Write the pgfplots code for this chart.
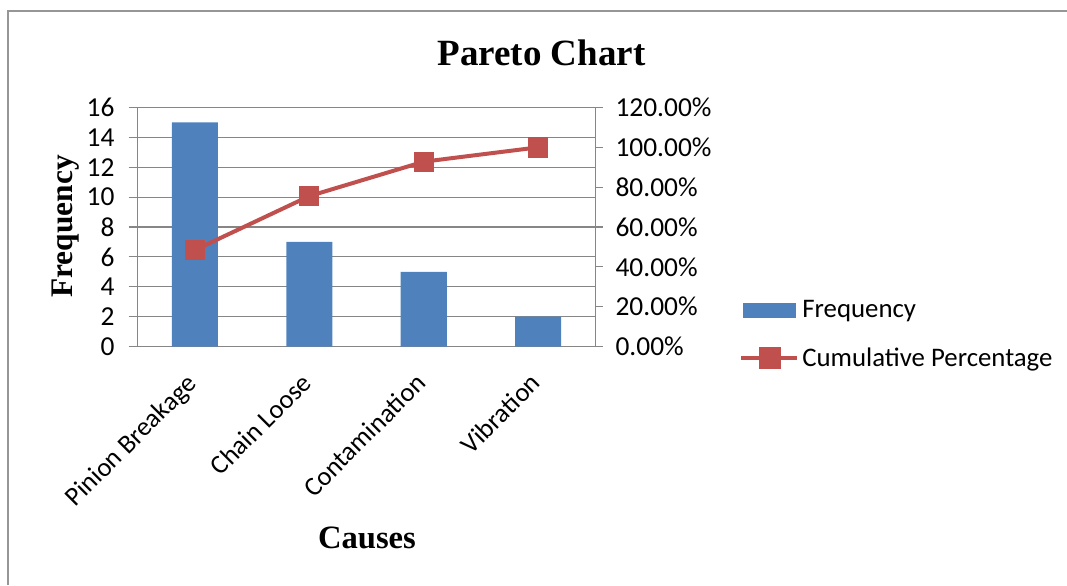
\documentclass[border=0pt]{standalone}
\usepackage{fontspec}
\setmainfont{Carlito}
\newfontfamily\timesfont{Liberation Serif}
\usepackage{pgfplots}
\pgfplotsset{compat=1.18}
\definecolor{barblue}{RGB}{79,129,189}
\definecolor{linered}{RGB}{192,80,77}
\definecolor{gridgray}{RGB}{134,134,134}
\definecolor{framegray}{RGB}{150,150,150}
\begin{document}
\begin{tikzpicture}
\useasboundingbox (0,0) rectangle (533.5pt,292.5pt);
\draw[framegray, line width=1.2pt] (4pt,0) -- (4pt,287pt) -- (533.5pt,287pt);
\begin{axis}[
 at={(68.75pt,119.25pt)}, anchor=south west, scale only axis,
 width=229pt, height=119.5pt,
 xmin=-0.5, xmax=3.5, ymin=0, ymax=16,
 xtick={0,1,2,3},
 xticklabels={Pinion Breakage, Chain Loose, Contamination, Vibration},
 ytick={0,2,...,16},
 axis x line*=bottom, axis y line*=left,
 axis line style={gridgray, line width=0.6pt, -},
 ymajorgrids, grid style={gridgray, line width=0.6pt},
 major tick length=4.5pt,
 xtick style={draw=none},
 ytick style={gridgray, line width=0.6pt},
 tick align=outside,
 ticklabel style={font=\fontsize{13.7}{16}\selectfont, text=black},
 xticklabel style={xshift=-4.75pt, yshift=-3.25pt, rotate=45, anchor=north east, font=\fontsize{13.3}{16}\selectfont},
 yticklabel style={xshift=-3.5pt},
 /pgf/number format/assume math mode=true,
 ybar, bar width=23pt,
 clip=false,
]
\addplot[fill=barblue, draw=none] coordinates {(0,15) (1,7) (2,5) (3,2)};
\end{axis}
\begin{axis}[
 at={(68.75pt,119.25pt)}, anchor=south west, scale only axis,
 width=229pt, height=119.5pt,
 xmin=-0.5, xmax=3.5, ymin=0, ymax=120,
 hide x axis, axis y line*=right,
 axis line style={gridgray, line width=0.6pt, -},
 ytick={0,20,...,120},
 yticklabel={\pgfmathprintnumber[fixed,fixed zerofill,precision=2]{\tick}\%},
 major tick length=3.5pt,
 ytick style={gridgray, line width=0.6pt},
 tick align=outside,
 ticklabel style={font=\fontsize{13.7}{16}\selectfont, text=black},
 yticklabel style={xshift=3pt},
 /pgf/number format/assume math mode=true,
 clip=false,
 legend style={at={(1.322,0.212)}, anchor=north west, draw=none, fill=none,
   font=\fontsize{13.4}{16}\selectfont, row sep=9.5pt, inner sep=0pt,
   /tikz/every odd column/.append style={column sep=2pt}},
 legend cell align=left,
]
\addlegendimage{legend image code/.code={
   \path[draw=none, fill=none] (0pt,-3.5pt) rectangle (25.5pt,3.5pt);
   \fill[barblue, overlay] (0pt,-3.5pt) rectangle (26pt,3.5pt);}}
\addlegendentry{Frequency}
\addplot[linered, line width=2pt, mark=square*, mark size=4.8pt,
  mark options={fill=linered, draw=linered, line width=0.4pt},
  legend image code/.code={
     \path[draw=none, fill=none] (0pt,-4.5pt) rectangle (25.5pt,4.5pt);
     \draw[linered, line width=2pt, overlay] (-1pt,0pt) -- (27pt,0pt);
     \fill[linered, overlay] (9pt,-4.5pt) rectangle (18pt,4.5pt);}]
  coordinates {(0,48.4) (1,75.5) (2,92.8) (3,100)};
\addlegendentry{Cumulative Percentage}
\end{axis}
\node[font=\timesfont\bfseries\fontsize{18.5}{22}\selectfont, anchor=base] at (270.75pt,259.5pt) {Pareto Chart};
\node[font=\timesfont\bfseries\fontsize{16.3}{19}\selectfont, anchor=base] at (183.5pt,18.5pt) {Causes};
\node[font=\timesfont\bfseries\fontsize{15.7}{19}\selectfont, anchor=base, rotate=90] at (36pt,179.25pt) {Frequency};
\end{tikzpicture}
\end{document}
